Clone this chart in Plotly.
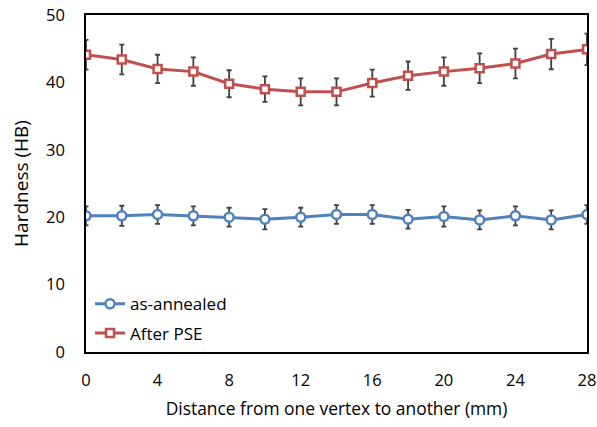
import plotly.graph_objects as go

distance = [0, 2, 4, 6, 8, 10, 12, 14, 16, 18, 20, 22, 24, 26, 28]
annealed = [20.2, 20.2, 20.4, 20.2, 20.0, 19.7, 20.0, 20.4, 20.4, 19.7, 20.1, 19.6, 20.2, 19.6, 20.4]
annealed_err = [1.4, 1.5, 1.4, 1.4, 1.4, 1.5, 1.4, 1.4, 1.4, 1.4, 1.5, 1.4, 1.4, 1.4, 1.4]
pse = [44.1, 43.4, 42.0, 41.6, 39.8, 39.0, 38.6, 38.6, 39.9, 41.0, 41.6, 42.1, 42.8, 44.2, 44.9]
pse_err = [2.2, 2.2, 2.1, 2.1, 2.0, 1.9, 2.0, 2.0, 2.0, 2.1, 2.1, 2.2, 2.2, 2.25, 2.35]

FAM = "Open Sans"
fig = go.Figure()
fig.add_trace(go.Scatter(
    x=distance, y=annealed, name="as-annealed", mode="lines+markers",
    line=dict(color="#4F81BD", width=3),
    marker=dict(symbol="circle", size=9, color="white", line=dict(color="#4F81BD", width=2.5)),
    error_y=dict(type="data", array=annealed_err, color="#404040", thickness=1.8, width=2.5),
    legendgroup="a",
))
fig.add_trace(go.Scatter(
    x=distance, y=pse, name="After PSE", mode="lines+markers",
    line=dict(color="#C0504D", width=3),
    marker=dict(symbol="square", size=8, color="white", line=dict(color="#C0504D", width=2.5)),
    error_y=dict(type="data", array=pse_err, color="#404040", thickness=1.8, width=2.5),
    legendgroup="b",
))
fig.update_layout(
    width=597, height=427,
    margin=dict(l=86, r=10, t=15, b=75),
    plot_bgcolor="white", paper_bgcolor="white",
    font=dict(family=FAM, size=15, color="black"),
    legend=dict(x=0.008, y=0.195, xanchor="left", yanchor="top", bgcolor="rgba(0,0,0,0)",
                font=dict(family=FAM, size=17, color="black"), tracegroupgap=4),
    xaxis=dict(range=[0, 28], tickvals=[0, 4, 8, 12, 16, 20, 24, 28], showgrid=False,
               showline=True, linecolor="black", linewidth=1.5, mirror=True, ticks="",
               zeroline=False, automargin=False,
               tickfont=dict(family=FAM, size=16.5, color="black"),
               title=dict(text="Distance from one vertex to another (mm)", standoff=13,
                          font=dict(family=FAM, size=17.4, color="black"))),
    yaxis=dict(range=[0, 50], tickvals=[0, 10, 20, 30, 40, 50], showgrid=False,
               showline=True, linecolor="black", linewidth=1.5, mirror=True, ticks="",
               zeroline=False, automargin=False,
               tickfont=dict(family=FAM, size=16.5, color="black"),
               title=dict(text="Hardness (HB)", standoff=12,
                          font=dict(family=FAM, size=19, color="black"))),
)
fig.update_xaxes(ticklabelstandoff=12)
fig.update_yaxes(ticklabelstandoff=16)
fig.write_html("out.html")
